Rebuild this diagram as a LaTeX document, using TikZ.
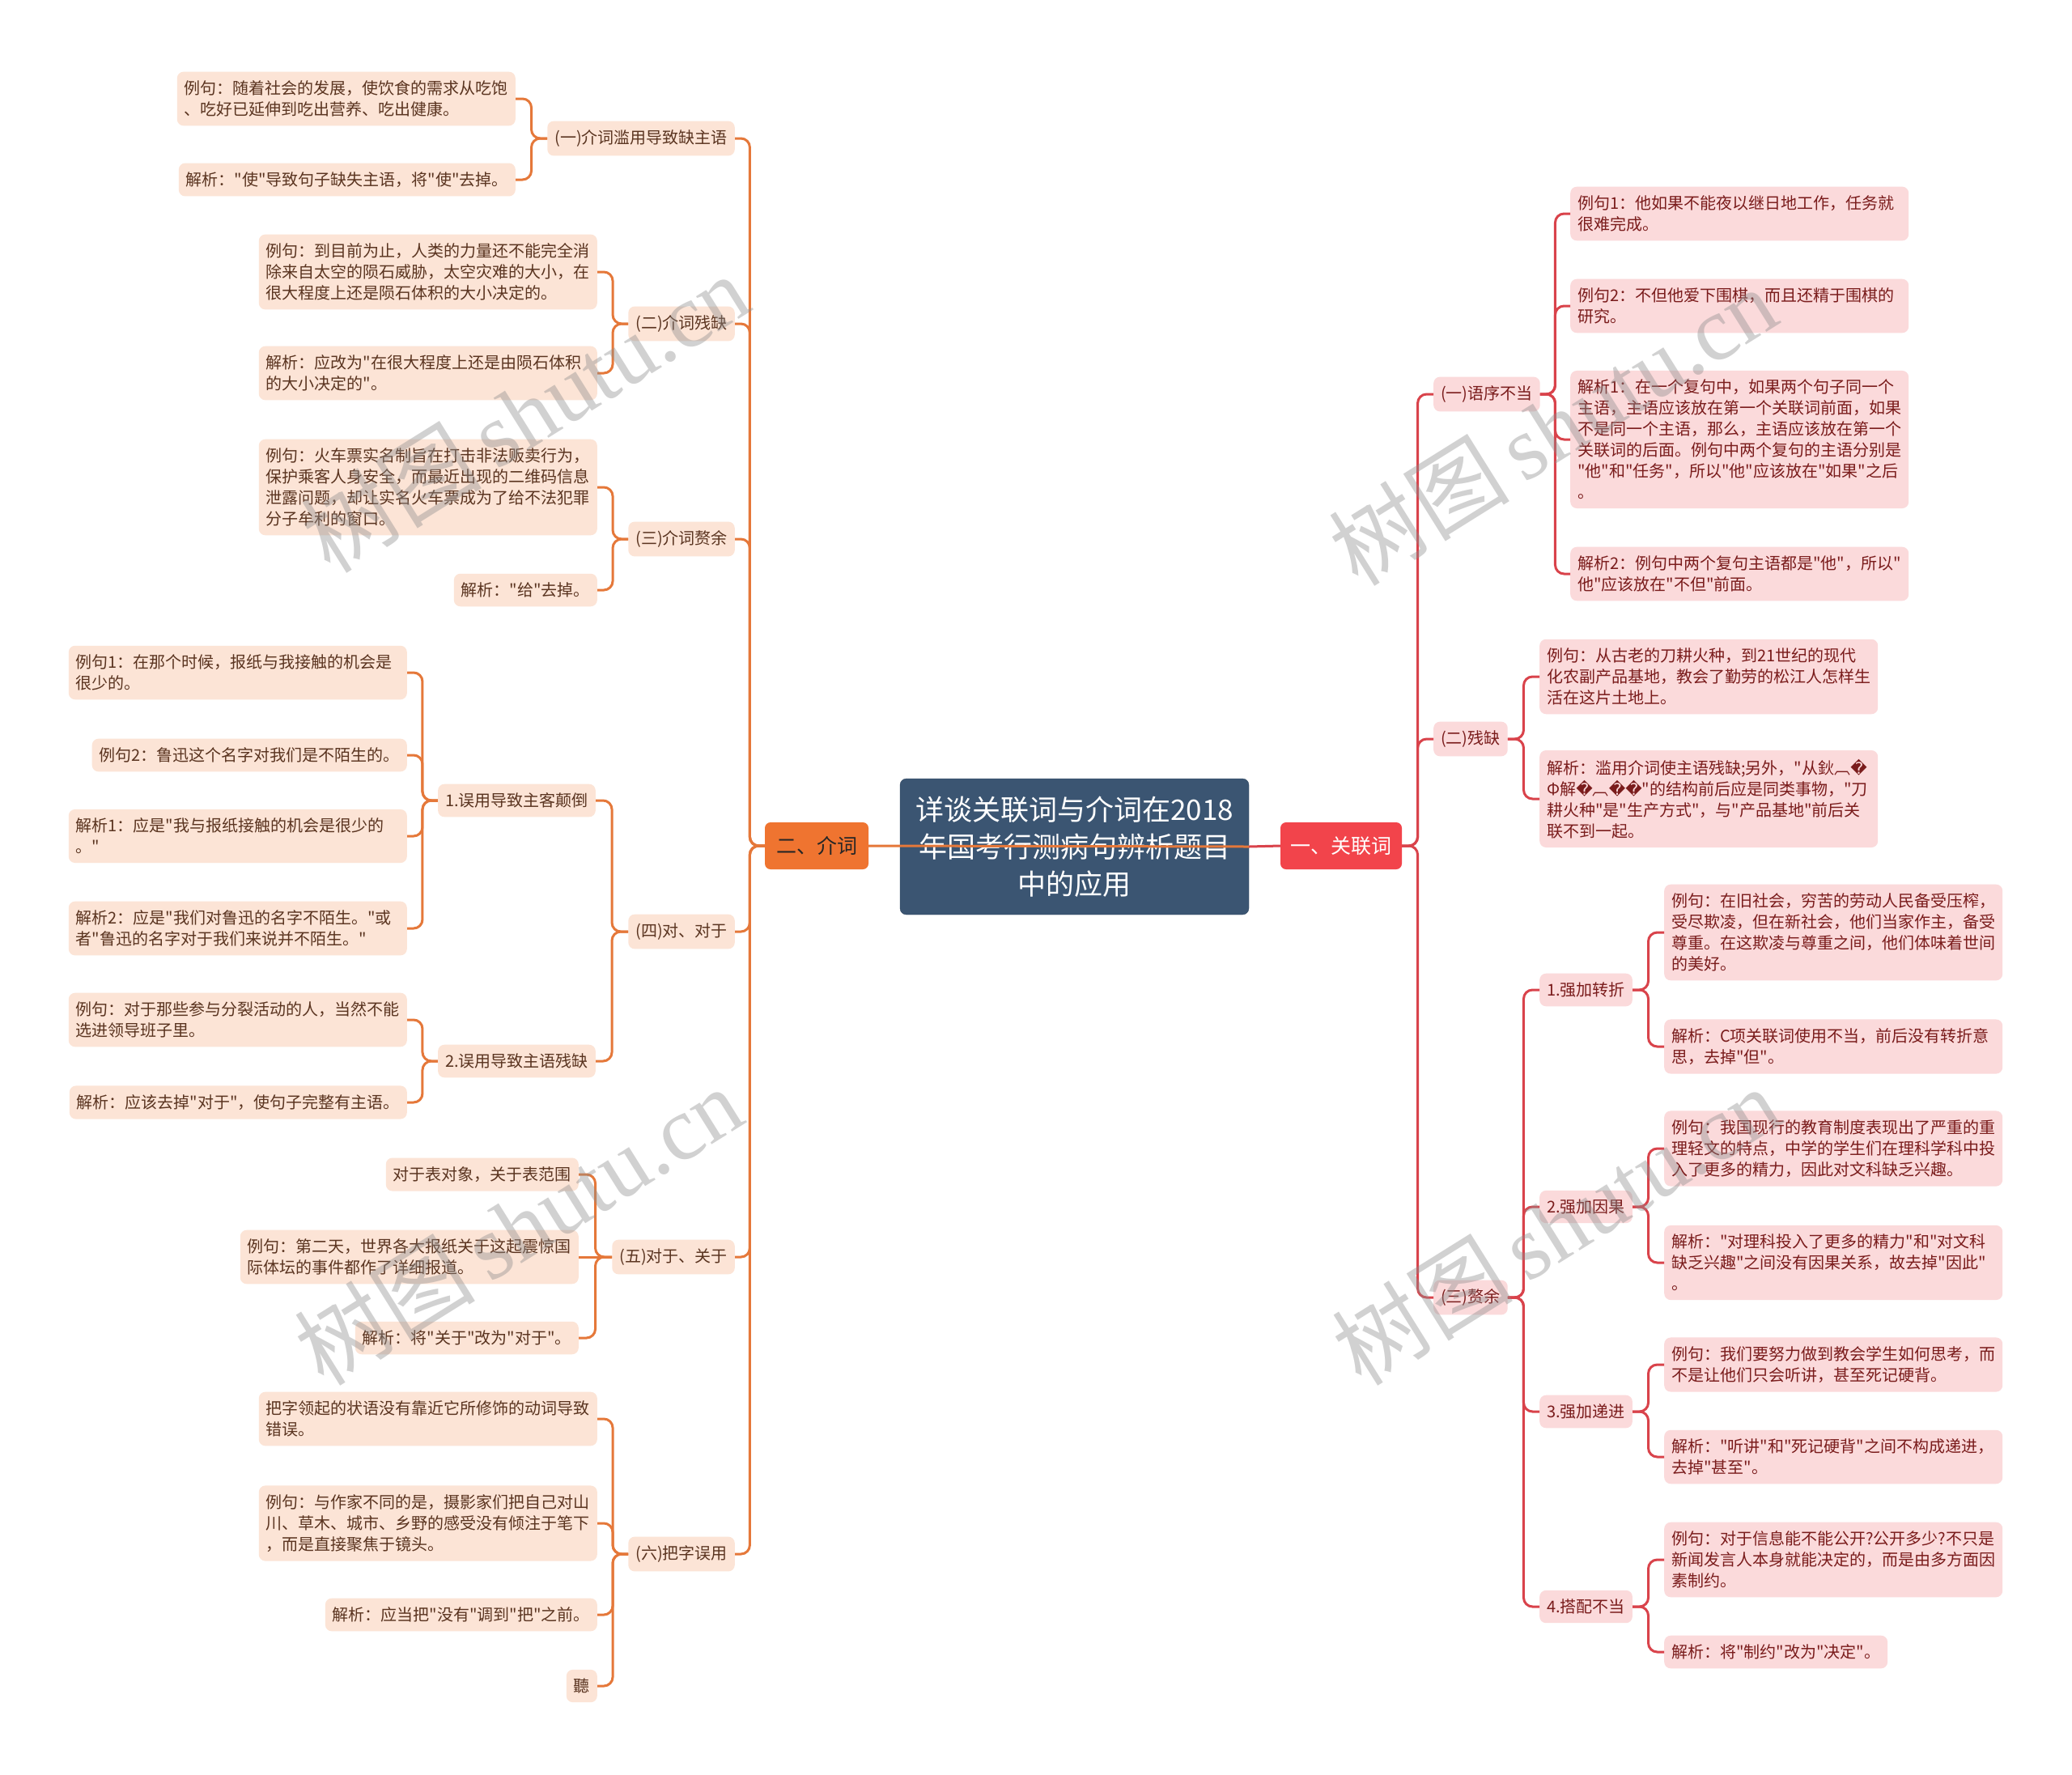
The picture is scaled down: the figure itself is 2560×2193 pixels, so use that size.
\documentclass[tikz,border=0pt]{standalone}
\usepackage{fontspec}
\newfontfamily\cjk{Noto Sans CJK SC}
\newfontfamily\djv{DejaVu Sans}
\newfontfamily\wmserif{Liberation Serif}
\usetikzlibrary{calc}
\definecolor{peach}{HTML}{FCE4D6}
\definecolor{pinkf}{HTML}{FBDADB}
\definecolor{ltxt}{HTML}{5A3420}
\definecolor{rtxt}{HTML}{7A1C1C}
\definecolor{oline}{HTML}{E5783A}
\definecolor{rline}{HTML}{D9434B}
\definecolor{ofill}{HTML}{EF7430}
\definecolor{rfill}{HTML}{F2444B}
\definecolor{cfill}{HTML}{3B5572}
\tikzset{
  basebox/.style={rounded corners=8pt, inner xsep=9pt, inner ysep=11pt, font=\cjk\fontsize{20}{26}\selectfont, align=left},
  lleaf/.style={basebox, fill=peach, text=ltxt, anchor=east},
  rleaf/.style={basebox, fill=pinkf, text=rtxt, anchor=west},
  wide/.style={text width=400pt},
  lconn/.style={draw=oline, line width=3pt, rounded corners=11pt},
  rconn/.style={draw=rline, line width=3pt, rounded corners=11pt},
  wmark/.style={rotate=32, text=black!45, opacity=0.4, font=\cjk\fontsize{112}{112}\selectfont}
}
\newcommand\lc[2]{\draw[lconn] (#1.west) -- ($(#1.west)!.5!(#1.west -| #2.east)$) |- (#2.east);}
\newcommand\rc[2]{\draw[rconn] (#1.east) -- ($(#1.east)!.5!(#1.east -| #2.west)$) |- (#2.west);}
\newcommand\rep{{\djv �}}
\begin{document}
\begin{tikzpicture}[x=1pt,y=-1pt]
\fill[white] (0,0) rectangle (2560,2193);
\useasboundingbox (0,0) rectangle (2560,2193);

% main nodes
\node[fill=cfill, draw=cfill!85!black, rounded corners=8pt, text=white, minimum width=431pt, minimum height=168pt, align=center, font=\cjk\fontsize{35}{46}\selectfont] (c) at (1327.5,1046) {详谈关联词与介词在2018\\年国考行测病句辨析题目\\中的应用};
\node[fill=ofill, rounded corners=7pt, text=black!85, minimum width=128pt, minimum height=58pt, font=\cjk\fontsize{25}{30}\selectfont] (m2) at (1009,1045) {二、介词};
\node[fill=rfill, rounded corners=7pt, text=white, minimum width=150pt, minimum height=58pt, font=\cjk\fontsize{25}{30}\selectfont] (m1) at (1657,1045) {一、关联词};

% ---------- left level 2
\node[lleaf] (n1) at (908,171) {(一)介词滥用导致缺主语};
\node[lleaf] (n2) at (908,400) {(二)介词残缺};
\node[lleaf] (n3) at (908,666) {(三)介词赘余};
\node[lleaf] (n4) at (908,1151) {(四)对、对于};
\node[lleaf] (n5) at (908,1553) {(五)对于、关于};
\node[lleaf] (n6) at (908,1920) {(六)把字误用};

% (一)
\node[lleaf,wide] (n1a) at (637,122) {例句：随着社会的发展，使饮食的需求从吃饱\\、吃好已延伸到吃出营养、吃出健康。};
\node[lleaf] (n1b) at (637,222) {解析："使"导致句子缺失主语，将"使"去掉。};
% (二)
\node[lleaf,wide] (n2a) at (738,336) {例句：到目前为止，人类的力量还不能完全消\\除来自太空的陨石威胁，太空灾难的大小，在\\很大程度上还是陨石体积的大小决定的。};
\node[lleaf,wide] (n2b) at (738,461) {解析：应改为"在很大程度上还是由陨石体积\\的大小决定的"。};
% (三)
\node[lleaf,wide] (n3a) at (738,602) {例句：火车票实名制旨在打击非法贩卖行为，\\保护乘客人身安全，而最近出现的二维码信息\\泄露问题，却让实名火车票成为了给不法犯罪\\分子牟利的窗口。};
\node[lleaf] (n3b) at (738,729) {解析："给"去掉。};
% (四)
\node[lleaf] (s1) at (736,989) {1.误用导致主客颠倒};
\node[lleaf] (s2) at (736,1311) {2.误用导致主语残缺};
\node[lleaf,wide] (s1a) at (503,831) {例句1：在那个时候，报纸与我接触的机会是\\很少的。};
\node[lleaf] (s1b) at (503,933) {例句2：鲁迅这个名字对我们是不陌生的。};
\node[lleaf,wide] (s1c) at (503,1033) {解析1：应是"我与报纸接触的机会是很少的\\。"};
\node[lleaf,wide] (s1d) at (503,1147) {解析2：应是"我们对鲁迅的名字不陌生。"或\\者"鲁迅的名字对于我们来说并不陌生。"};
\node[lleaf,wide] (s2a) at (503,1260) {例句：对于那些参与分裂活动的人，当然不能\\选进领导班子里。};
\node[lleaf] (s2b) at (503,1362) {解析：应该去掉"对于"，使句子完整有主语。};
% (五)
\node[lleaf] (n5a) at (715,1451) {对于表对象，关于表范围};
\node[lleaf,wide] (n5b) at (715,1553) {例句：第二天，世界各大报纸关于这起震惊国\\际体坛的事件都作了详细报道。};
\node[lleaf] (n5c) at (715,1653) {解析：将"关于"改为"对于"。};
% (六)
\node[lleaf,wide] (n6a) at (738,1753) {把字领起的状语没有靠近它所修饰的动词导致\\错误。};
\node[lleaf,wide] (n6b) at (738,1882) {例句：与作家不同的是，摄影家们把自己对山\\川、草木、城市、乡野的感受没有倾注于笔下\\，而是直接聚焦于镜头。};
\node[lleaf] (n6c) at (738,1995) {解析：应当把"没有"调到"把"之前。};
\node[lleaf] (n6d) at (738,2083) {聽};

% ---------- right level 2
\node[rleaf] (r1) at (1771,487) {(一)语序不当};
\node[rleaf] (r2) at (1771,913) {(二)残缺};
\node[rleaf] (r3) at (1771,1603) {(三)赘余};

\node[rleaf,wide] (r1a) at (1940,264) {例句1：他如果不能夜以继日地工作，任务就\\很难完成。};
\node[rleaf,wide] (r1b) at (1940,378) {例句2：不但他爱下围棋，而且还精于围棋的\\研究。};
\node[rleaf,wide] (r1c) at (1940,543) {解析1：在一个复句中，如果两个句子同一个\\主语，主语应该放在第一个关联词前面，如果\\不是同一个主语，那么，主语应该放在第一个\\关联词的后面。例句中两个复句的主语分别是\\"他"和"任务"，所以"他"应该放在"如果"之后\\。};
\node[rleaf,wide] (r1d) at (1940,709) {解析2：例句中两个复句主语都是"他"，所以"\\他"应该放在"不但"前面。};

\node[rleaf,wide] (r2a) at (1902,836) {例句：从古老的刀耕火种，到21世纪的现代\\化农副产品基地，教会了勤劳的松江人怎样生\\活在这片土地上。};
\node[rleaf,wide] (r2b) at (1902,987) {解析：滥用介词使主语残缺;另外，"从鈥︹\rep\\Φ解\rep︹\rep\rep"的结构前后应是同类事物，"刀\\耕火种"是"生产方式"，与"产品基地"前后关\\联不到一起。};

\node[rleaf] (t1) at (1902,1223) {1.强加转折};
\node[rleaf] (t2) at (1902,1491) {2.强加因果};
\node[rleaf] (t3) at (1902,1744) {3.强加递进};
\node[rleaf] (t4) at (1902,1985) {4.搭配不当};

\node[rleaf,wide] (t1a) at (2056,1152) {例句：在旧社会，穷苦的劳动人民备受压榨，\\受尽欺凌，但在新社会，他们当家作主，备受\\尊重。在这欺凌与尊重之间，他们体味着世间\\的美好。};
\node[rleaf,wide] (t1b) at (2056,1293) {解析：C项关联词使用不当，前后没有转折意\\思，去掉"但"。};
\node[rleaf,wide] (t2a) at (2056,1419) {例句：我国现行的教育制度表现出了严重的重\\理轻文的特点，中学的学生们在理科学科中投\\入了更多的精力，因此对文科缺乏兴趣。};
\node[rleaf,wide] (t2b) at (2056,1560) {解析："对理科投入了更多的精力"和"对文科\\缺乏兴趣"之间没有因果关系，故去掉"因此"\\。};
\node[rleaf,wide] (t3a) at (2056,1686) {例句：我们要努力做到教会学生如何思考，而\\不是让他们只会听讲，甚至死记硬背。};
\node[rleaf,wide] (t3b) at (2056,1800) {解析："听讲"和"死记硬背"之间不构成递进，\\去掉"甚至"。};
\node[rleaf,wide] (t4a) at (2056,1927) {例句：对于信息能不能公开?公开多少?不只是\\新闻发言人本身就能决定的，而是由多方面因\\素制约。};
\node[rleaf] (t4b) at (2056,2041) {解析：将"制约"改为"决定"。};

% ---------- connectors left
\foreach \k in {n1,n2,n3,n4,n5,n6} {\lc{m2}{\k}}
\lc{n1}{n1a} \lc{n1}{n1b}
\lc{n2}{n2a} \lc{n2}{n2b}
\lc{n3}{n3a} \lc{n3}{n3b}
\lc{n4}{s1} \lc{n4}{s2}
\lc{s1}{s1a} \lc{s1}{s1b} \lc{s1}{s1c} \lc{s1}{s1d}
\lc{s2}{s2a} \lc{s2}{s2b}
\lc{n5}{n5a} \lc{n5}{n5c}
\draw[lconn] (n5.west) -- (n5b.east);
\lc{n6}{n6a} \lc{n6}{n6b} \lc{n6}{n6c} \lc{n6}{n6d}

% ---------- connectors right
\foreach \k in {r1,r2,r3} {\rc{m1}{\k}}
\rc{r1}{r1a} \rc{r1}{r1b} \rc{r1}{r1c} \rc{r1}{r1d}
\rc{r2}{r2a} \rc{r2}{r2b}
\rc{r3}{t1} \rc{r3}{t2} \rc{r3}{t3} \rc{r3}{t4}
\rc{t1}{t1a} \rc{t1}{t1b}
\rc{t2}{t2a} \rc{t2}{t2b}
\rc{t3}{t3a} \rc{t3}{t3b}
\rc{t4}{t4a} \rc{t4}{t4b}

% center connectors
\draw[rconn] (c.east) -- (m1.west);
\draw[lconn] (c.east) -- (m2.east);

% watermarks
\node[wmark] (w1) at (648,510) {树图\,{\wmserif shutu.cn}};
\node[wmark] (w2) at (640,1514) {树图\,{\wmserif shutu.cn}};
\node[wmark] (w3) at (1918,526) {树图\,{\wmserif shutu.cn}};
\node[wmark] (w4) at (1922,1514) {树图\,{\wmserif shutu.cn}};
\end{tikzpicture}
\end{document}
